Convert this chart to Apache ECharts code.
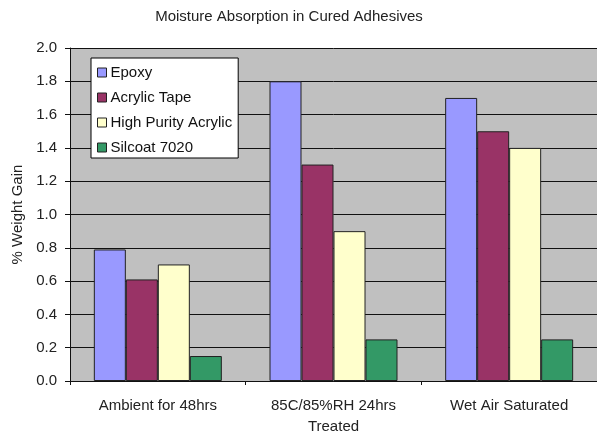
<!DOCTYPE html>
<html>
<head>
<meta charset="utf-8">
<style>
  html, body { margin: 0; padding: 0; background: #ffffff; }
  #chart { width: 597px; height: 437px; }
</style>
<script src="https://cdn.jsdelivr.net/npm/echarts@6/dist/echarts.min.js"></script>
</head>
<body>
<div id="chart"></div>
<script>
// Test conditions along the category axis
const categories = ['Ambient for 48hrs', '85C/85%RH 24hrs\nTreated', 'Wet Air Saturated'];

// % weight gain per adhesive
const epoxy = [0.79, 1.80, 1.70];
const acrylicTape = [0.61, 1.30, 1.50];
const highPurityAcrylic = [0.70, 0.90, 1.40];
const silcoat7020 = [0.15, 0.25, 0.25];

const seriesNames = ['Epoxy', 'Acrylic Tape', 'High Purity Acrylic', 'Silcoat 7020'];
const seriesValues = [epoxy, acrylicTape, highPurityAcrylic, silcoat7020];
const seriesColors = ['#9999FF', '#993366', '#FFFFCC', '#339966'];

const FONT = '"Liberation Sans", Arial, sans-serif';

const chart = echarts.init(document.getElementById('chart'), null, { renderer: 'canvas' });

chart.setOption({
  animation: false,
  backgroundColor: '#ffffff',
  title: {
    text: 'Moisture Absorption in Cured Adhesives',
    left: 284,
    top: 4,
    textAlign: 'center',
    textStyle: { fontFamily: FONT, fontSize: 15, fontWeight: 'normal', color: '#222222' }
  },
  legend: {
    orient: 'vertical',
    left: 91,
    top: 58,
    padding: [6, 6, 2, 6],
    itemGap: 8,
    itemWidth: 9,
    itemHeight: 9,
    icon: 'rect',
    backgroundColor: '#ffffff',
    borderColor: '#000000',
    borderWidth: 1,
    borderRadius: 0,
    itemStyle: { borderColor: '#222222', borderWidth: 1 },
    textStyle: { fontFamily: FONT, fontSize: 15, color: '#111111', lineHeight: 17, padding: [0, 0, 0, -1] },
    data: seriesNames
  },
  grid: { left: 70, top: 48, right: -2, bottom: 55, containLabel: false,
          show: true, backgroundColor: '#C0C0C0', borderWidth: 0 },
  xAxis: {
    type: 'category',
    data: categories,
    axisLine: { lineStyle: { color: '#111111', width: 1 } },
    axisTick: { show: true, length: 4, lineStyle: { color: '#111111' } },
    axisLabel: { fontFamily: FONT, fontSize: 15, color: '#222222', margin: 14, lineHeight: 21 }
  },
  yAxis: {
    type: 'value',
    min: 0,
    max: 2.0,
    interval: 0.2,
    name: '% Weight Gain',
    nameLocation: 'middle',
    nameGap: 39,
    nameTextStyle: { fontFamily: FONT, fontSize: 15, color: '#222222' },
    axisLine: { show: true, lineStyle: { color: '#111111', width: 1 } },
    axisTick: { show: true, length: 5, lineStyle: { color: '#111111' } },
    axisLabel: { fontFamily: FONT, fontSize: 15, color: '#222222', margin: 13,
                 formatter: v => v.toFixed(1) },
    splitLine: { show: true, lineStyle: { color: '#111111', width: 1 } }
  },
  series: seriesNames.map((name, i) => ({
    name: name,
    type: 'bar',
    data: seriesValues[i],
    barWidth: 32,
    barGap: '0%',
    itemStyle: { color: seriesColors[i], borderColor: '#222222', borderWidth: 1 }
  }))
});
</script>
</body>
</html>
